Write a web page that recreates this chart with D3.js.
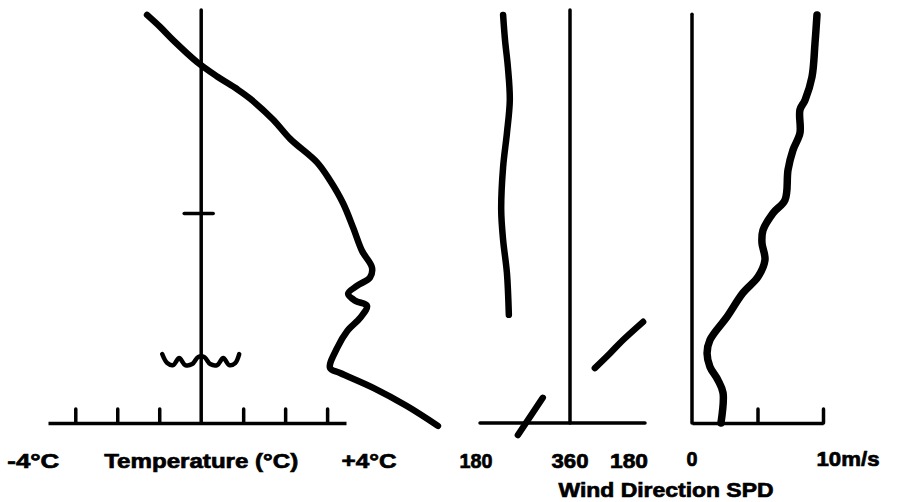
<!DOCTYPE html>
<html>
  <head>
    <meta charset="UTF-8">
    <title>Temperature and wind profiles</title>
    <style>
      body { margin: 0; background: #fff; }
      svg text { font-family: "Liberation Sans", Arial, sans-serif; font-weight: bold; font-size: 21px; fill: #000; stroke: #000; stroke-width: 0.7px; }
    </style>
  </head>
  <body>
    <script src="https://d3js.org/d3.v7.min.js"></script>
    <svg width="906" height="502" id="profiles"></svg>
    <script>

      // temperature profile, [temp °C, height m]
      var tempProfile = [[-1.29, 988], [-0.98, 959], [-0.67, 927], [-0.10, 874], [0.38, 839], [0.86, 808],
        [1.17, 785], [1.71, 735], [2.12, 688], [2.76, 631], [3.07, 587], [3.38, 532], [3.62, 473],
        [3.83, 417], [4.07, 376], [4.02, 352], [3.71, 332], [3.50, 313], [3.67, 296], [3.95, 284],
        [3.79, 255], [3.48, 223], [3.24, 182], [3.07, 133], [3.31, 121], [4.10, 85], [4.90, 41], [5.64, -7]];
      var tempTicks = [-3, -2, -1, 1, 2, 3];

      // wind direction, three separate pieces [deg, height m]
      var dirUpper = [[220, 988], [224, 927], [230, 862], [234, 782], [228, 702], [220, 620],
        [216, 516], [220, 443], [228, 363], [232, 262]];
      var dirMid = [[412, 133], [444, 169], [471, 201], [513, 245]];
      var dirLow = [[303, 61], [251, -29]];

      // wind speed [m/s, height m]
      var speedProfile = [[9.54, 988], [9.39, 920], [9.16, 838], [8.63, 782], [8.24, 758], [8.24, 702],
        [7.71, 661], [7.33, 613], [7.10, 540], [6.18, 508], [5.42, 467], [5.34, 436], [5.57, 395],
        [5.04, 354], [3.89, 315], [2.67, 257], [1.37, 201], [1.15, 169], [1.37, 136], [1.98, 104],
        [2.37, 73], [2.21, 0]];
      var speedTicks = [5, 10];

      // markers on the temperature axis (height m)
      var dashHeight = 507;
      var fogHeight = 150;

      var svg = d3.select("#profiles");

      var y = d3.scaleLinear().domain([0, 1000]).range([423, 10]);
      var xTemp = d3.scaleLinear().domain([-3.65, 3.45]).range([48, 346]);
      var xDir = d3.scaleLinear().domain([180, 360]).range([484, 570]);
      var xSpd = d3.scaleLinear().domain([0, 10]).range([692, 823]);

      function axisLine(x1, y1, x2, y2) {
        svg.append("line")
          .attr("x1", x1).attr("y1", y1).attr("x2", x2).attr("y2", y2)
          .attr("stroke", "#000").attr("stroke-width", 3.5).attr("stroke-linecap", "round");
      }

      function bottomAxis(scale, ticks) {
        var g = svg.append("g")
          .attr("transform", "translate(0," + y(0) + ")")
          .call(d3.axisBottom(scale).tickValues(ticks).tickSizeInner(-14).tickSizeOuter(0).tickFormat(""));
        g.select(".domain").attr("stroke-width", 3.5);
        g.selectAll(".tick line").attr("stroke-width", 3.5).attr("stroke-linecap", "round");
      }

      // --- temperature panel
      bottomAxis(xTemp, tempTicks);
      axisLine(xTemp(0), y(1000), xTemp(0), y(0));
      axisLine(xTemp(0) - 17, y(dashHeight), xTemp(0) + 12, y(dashHeight));

      // fog / haze symbol (shape offsets around the axis)
      var fx = xTemp(0), fy = y(fogHeight);
      var wave = [[-39, -7], [-34, 2], [-28, 4], [-22, -3], [-16, 4], [-9, 3], [-3, -4],
                  [3, -4], [9, 3], [16, 4], [22, -3], [28, 4], [34, 2], [38, -7]];
      svg.append("path")
        .attr("d", d3.line().x(d => fx + d[0]).y(d => fy + d[1]).curve(d3.curveCatmullRom)(wave))
        .attr("fill", "none").attr("stroke", "#000").attr("stroke-width", 4.5)
        .attr("stroke-linecap", "round").attr("stroke-linejoin", "round");

      var lineT = d3.line().x(d => xTemp(d[0])).y(d => y(d[1])).curve(d3.curveCatmullRom);
      svg.append("path").datum(tempProfile)
        .attr("d", lineT)
        .attr("fill", "none").attr("stroke", "#000").attr("stroke-width", 6.5)
        .attr("stroke-linecap", "round").attr("stroke-linejoin", "round");

      // --- wind direction panel
      axisLine(480, y(0), 645, y(0));
      axisLine(xDir(360), y(1000), xDir(360), y(0));

      var lineD = d3.line().x(d => xDir(d[0])).y(d => y(d[1])).curve(d3.curveCatmullRom);
      [dirUpper, dirMid, dirLow].forEach(function(seg) {
        svg.append("path").datum(seg)
          .attr("d", lineD)
          .attr("fill", "none").attr("stroke", "#000").attr("stroke-width", 6.5)
          .attr("stroke-linecap", "round").attr("stroke-linejoin", "round");
      });

      // --- wind speed panel
      bottomAxis(xSpd, speedTicks);
      axisLine(xSpd(0), y(990), xSpd(0), y(0));

      var lineS = d3.line().x(d => xSpd(d[0])).y(d => y(d[1])).curve(d3.curveCatmullRom);
      svg.append("path").datum(speedProfile)
        .attr("d", lineS)
        .attr("fill", "none").attr("stroke", "#000").attr("stroke-width", 7.5)
        .attr("stroke-linecap", "round").attr("stroke-linejoin", "round");

      // --- labels
      var labels = [
        {t: "-4°C", x: xTemp(-4), y: 468, w: 52},
        {t: "Temperature (°C)", x: xTemp(0), y: 468, w: 194},
        {t: "+4°C", x: xTemp(4), y: 468, w: 55},
        {t: "180", x: xDir(180) - 8, y: 468, w: 33},
        {t: "360", x: xDir(360), y: 468, w: 37},
        {t: "180", x: xDir(540) - 27, y: 468, w: 38},
        {t: "0", x: xSpd(0), y: 466, w: 11},
        {t: "10m/s", x: xSpd(10) + 25, y: 466, w: 63},
        {t: "Wind Direction SPD", x: 666, y: 497, w: 215}
      ];
      svg.selectAll("text.lbl")
        .data(labels)
        .enter().append("text")
        .attr("class", "lbl")
        .attr("x", d => d.x - d.w / 2)
        .attr("y", d => d.y)
        .attr("textLength", d => d.w)
        .attr("lengthAdjust", "spacingAndGlyphs")
        .text(d => d.t);
    </script>
  </body>
</html>
